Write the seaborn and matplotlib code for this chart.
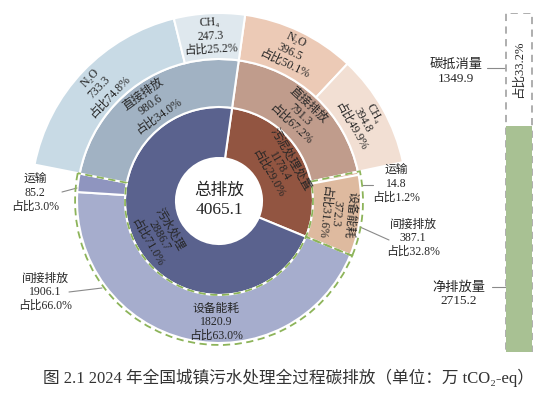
import numpy as np
import matplotlib
matplotlib.use('Agg')
import matplotlib.pyplot as plt
import seaborn as sns

# ---- data (万 tCO2-eq) ----
total = 4065.1
inner_names = ['污泥处理处置', '污水处理']
inner_vals = [1178.4, 2886.7]
inner_pct = ['29.0%', '71.0%']

mid_names = ['直接排放', '运输', '设备能耗', '设备能耗', '运输', '直接排放']
mid_vals = [791.3, 14.8, 372.3, 1820.9, 85.2, 980.6]
mid_pct = ['67.2%', '1.2%', '31.6%', '63.0%', '3.0%', '34.0%']

outer_names = ['N₂O', 'CH₄', '', '', 'N₂O', 'CH₄']
outer_vals = [396.5, 394.8, 387.1, 1906.1, 733.3, 247.3]
outer_pct = ['50.1%', '49.9%', '', '', '74.8%', '25.2%']

group_vals = [791.3, 387.1, 1906.1, 980.6]   # direct / indirect per process
indirect_pct = ['32.8%', '66.0%']

offset_val = 1349.9
net_val = 2715.2
offset_pct = '33.2%'

# ---- style ----
sns.set_style('white')
plt.rcParams['font.family'] = ['Liberation Serif', 'Noto Sans CJK SC', 'DejaVu Sans']
TXT = '#262626'
FS = 8.5

inner_colors = ['#925541', '#5A628E']
mid_colors = ['#C09C8C', '#D9B297', '#DEBA9F', '#A6ADCD', '#8F95BF', '#A1B2C3']
outer_colors = ['#ECCAB6', '#F2DFD3', 'none', 'none', '#C8DAE5', '#DFE8EE']
green_line = '#8DB45A'

W, H = 554, 398
fig = plt.figure(figsize=(W / 100, H / 100), dpi=100)
ax = fig.add_axes([0, 0, 1, 1])

C = (219, H - 201)
R_HOLE, R_IN, R_MID, R_OUT = 43, 94, 142, 188
START = 82
edge = dict(edgecolor='white', linewidth=1.5)

w_in, _ = ax.pie(inner_vals, radius=R_IN, center=C, startangle=START, counterclock=False,
                 colors=inner_colors, wedgeprops=dict(width=R_IN - R_HOLE, **edge))
w_mid, _ = ax.pie(mid_vals, radius=R_MID, center=C, startangle=START, counterclock=False,
                  colors=mid_colors, wedgeprops=dict(width=R_MID - R_IN, **edge))
w_out, _ = ax.pie(outer_vals, radius=R_OUT, center=C, startangle=START, counterclock=False,
                  colors=outer_colors, wedgeprops=dict(width=R_OUT - R_MID, **edge))
for w, n in zip(w_out, outer_names):
    if not n:
        w.set_visible(False)

# dashed outline around indirect emissions
w_grp, _ = ax.pie(group_vals, radius=R_MID + 2, center=C, startangle=START, counterclock=False,
                  wedgeprops=dict(width=R_MID + 2 - R_IN, fill=False, edgecolor=green_line,
                                  linestyle=(0, (4, 2.5)), linewidth=1.3))
for i, w in enumerate(w_grp):
    if i in (0, 3):
        w.set_visible(False)
    w.set_zorder(5)


def ring_label(wedge, r, text, size=FS):
    ang = (wedge.theta1 + wedge.theta2) / 2
    x = C[0] + r * np.cos(np.radians(ang))
    y = C[1] + r * np.sin(np.radians(ang))
    rot = ((ang - 90 + 100) % 180) - 100
    ax.text(x, y, text, rotation=rot, rotation_mode='anchor', ha='center', va='center',
            fontsize=size, color=TXT, linespacing=1.15, zorder=6)


for w, n, v, p in zip(w_in, inner_names, inner_vals, inner_pct):
    ring_label(w, (R_HOLE + R_IN) / 2 + 1, f'{n}\n{v}\n占比{p}')
for i, (w, n, v, p) in enumerate(zip(w_mid, mid_names, mid_vals, mid_pct)):
    if n == '运输':
        continue
    if i == 3:
        ax.text(C[0] - 3, C[1] - 121, f'{n}\n{v}\n占比{p}', ha='center', va='center',
                fontsize=FS, color=TXT, linespacing=1.15, zorder=6)
        continue
    ring_label(w, (R_IN + R_MID) / 2, f'{n}\n{v}\n占比{p}')
for w, n, v, p in zip(w_out, outer_names, outer_vals, outer_pct):
    if n:
        ring_label(w, (R_MID + R_OUT) / 2, f'{n}\n{v}\n占比{p}')

ax.text(C[0], C[1] + 10, '总排放', ha='center', va='center', fontsize=12, color=TXT)
ax.text(C[0], C[1] - 9, f'{total}', ha='center', va='center', fontsize=12.5, color=TXT)

# outside labels with leader lines (image pixel coords, y from top)
lead = dict(color='#8A8A8A', lw=0.8)
outside = [
    ((35, 193), f'运输\n{mid_vals[4]}\n占比{mid_pct[4]}', [(62, 192), (77, 188)]),
    ((45, 292), f'间接排放\n{group_vals[2]}\n占比{indirect_pct[1]}', [(69, 292), (102, 288)]),
    ((396, 184), f'运输\n{mid_vals[1]}\n占比{mid_pct[1]}', [(362, 185), (373, 185)]),
    ((413, 238), f'间接排放\n{group_vals[1]}\n占比{indirect_pct[0]}', [(360, 227), (389, 240)]),
]
for (tx, ty), txt, pts in outside:
    ax.text(tx, H - ty, txt, ha='center', va='center', fontsize=FS, color=TXT, linespacing=1.15)
    ax.plot([p[0] for p in pts], [H - p[1] for p in pts], **lead)

ax.text(456, H - 72, f'碳抵消量\n{offset_val}', ha='center', va='center', fontsize=9.5,
        color=TXT, linespacing=1.15)
ax.plot([487, 505], [H - 68, H - 68], **lead)
ax.text(459, H - 294, f'净排放量\n{net_val}', ha='center', va='center', fontsize=9.5,
        color=TXT, linespacing=1.15)
ax.plot([492, 512], [H - 287, H - 287], **lead)

ax.text(43, H - 378, '图 2.1 2024 年全国城镇污水处理全过程碳排放（单位：万 tCO₂-eq）',
        ha='left', va='center', fontsize=12, color='#333333')

ax.set_xlim(0, W)
ax.set_ylim(0, H)
ax.axis('off')

# ---- right stacked bar ----
bax = fig.add_axes([505 / W, (H - 352) / H, 28 / W, 339 / H])
sns.barplot(x=['总'], y=[net_val + offset_val], color='white', width=1, ax=bax,
            edgecolor='#A8A8A8', linewidth=1.3, linestyle=(0, (4, 3)))
sns.barplot(x=['总'], y=[net_val], color='#A8C193', saturation=1, width=1, ax=bax,
            edgecolor='none')
bax.text(0, net_val + offset_val / 2, f'占比{offset_pct}', rotation=90, ha='center',
         va='center', fontsize=9, color=TXT)
bax.set_xlim(-0.52, 0.52)
bax.set_ylim(0, net_val + offset_val + 5)
bax.axis('off')

fig.savefig('out.png', dpi=100)
